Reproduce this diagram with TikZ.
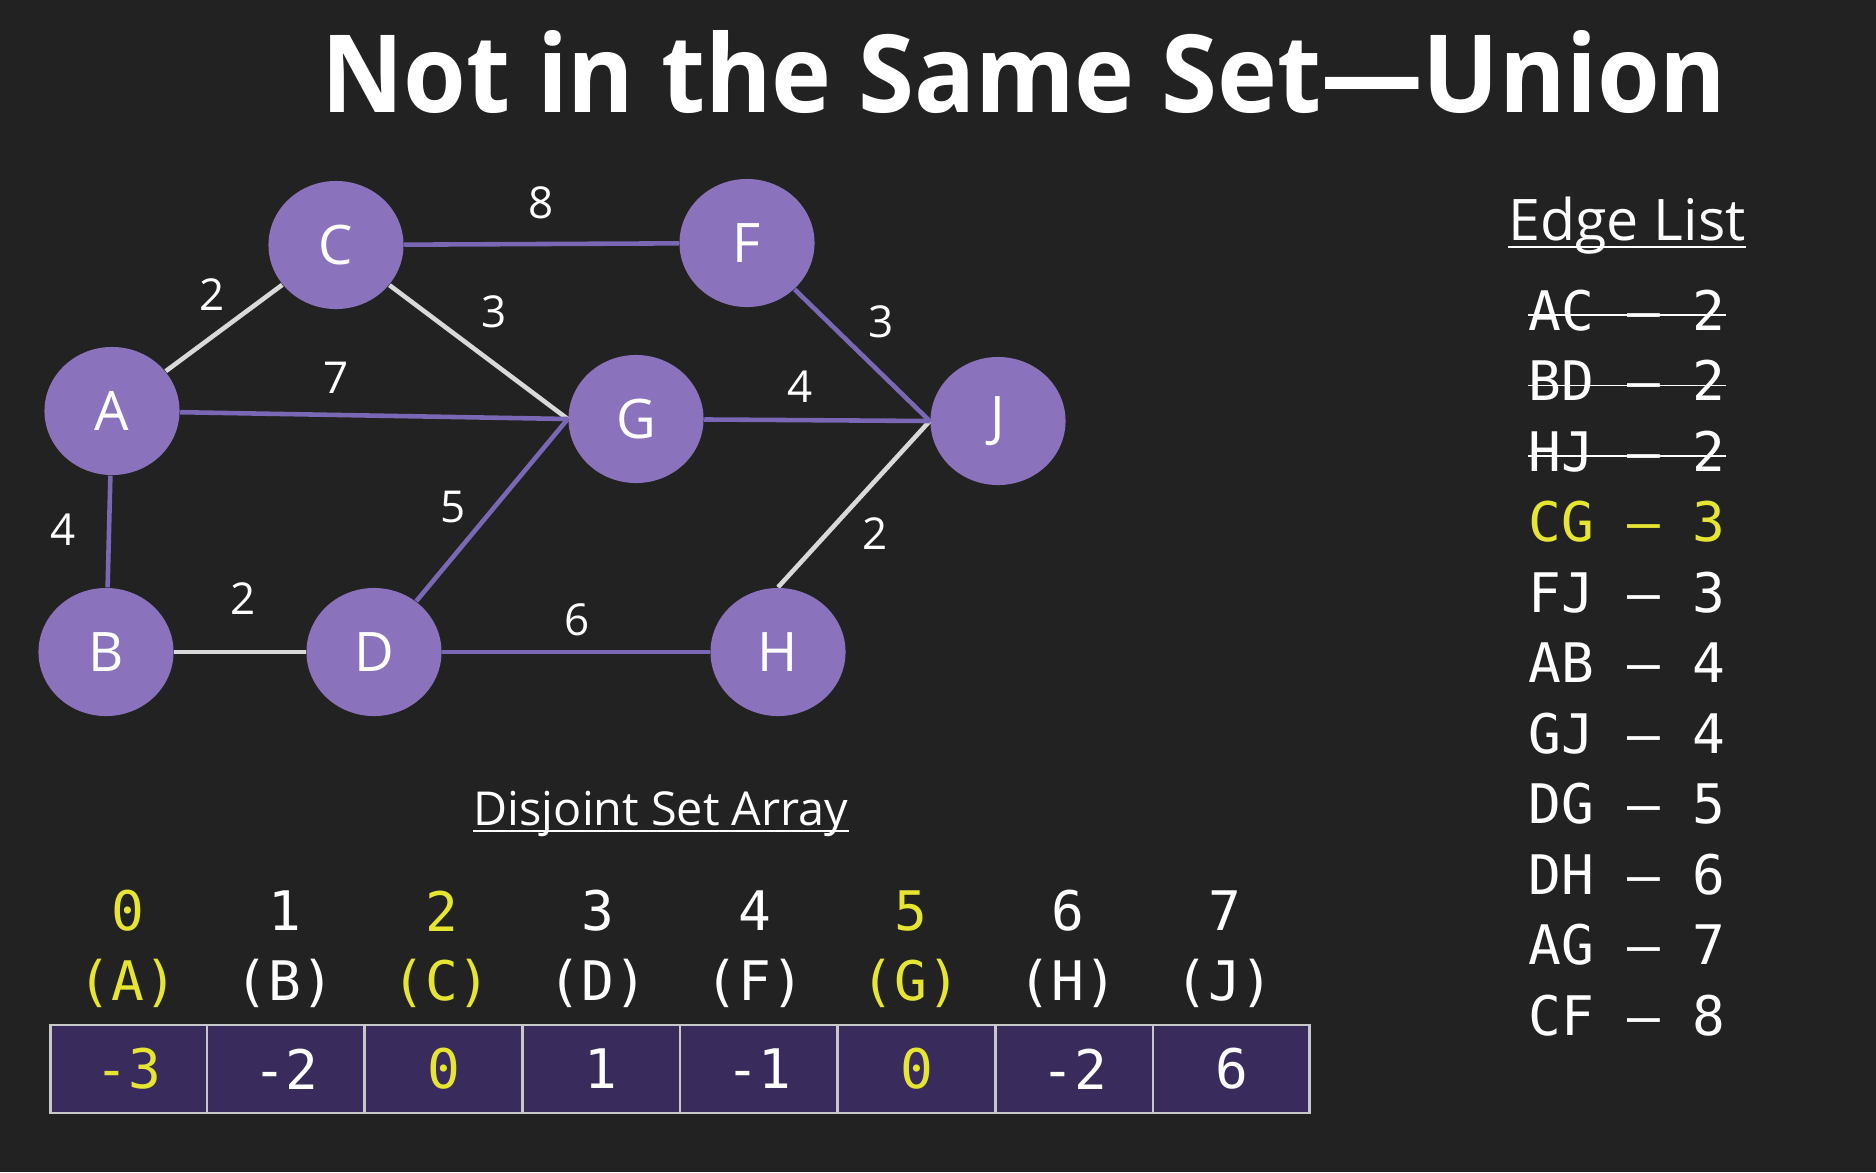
\documentclass[tikz,border=0pt]{standalone}
\usepackage{fontspec}
\setmainfont{Open Sans}
\newfontfamily\titlefont[FakeStretch=0.94]{Open Sans}
\newfontfamily\codefont{DejaVu Sans Mono}
\usetikzlibrary{shapes.geometric, shapes.multipart, positioning, backgrounds}

\definecolor{slidebg}{HTML}{222222}
\definecolor{vertexfill}{HTML}{8A72BD}
\definecolor{edgepurple}{HTML}{7A68B6}
\definecolor{edgewhite}{HTML}{D9D9D9}
\definecolor{cellfill}{HTML}{392B5C}
\definecolor{cellline}{HTML}{C8C8C8}
\definecolor{hilite}{HTML}{E6E632}

\begin{document}
\begin{tikzpicture}[
    x=0.01cm, y=-0.01cm,
    vertex/.style={
        ellipse,
        fill=vertexfill,
        minimum width=1.35cm,
        minimum height=1.28cm,
        inner sep=0pt,
        text=white,
        font=\fontsize{15.5}{18}\selectfont
    },
    purple edge/.style={draw=edgepurple, line width=1.3pt},
    white edge/.style={draw=edgewhite, line width=1.3pt},
    weight/.style={
        text=white,
        inner sep=0pt,
        font=\fontsize{12.5}{15}\selectfont
    },
    heading/.style={
        text=white,
        inner sep=0pt,
        font=\fontsize{16.3}{20}\selectfont
    },
    underline/.style={draw=white, line width=0.7pt},
    edge item/.style={
        text=white,
        inner sep=0pt,
        font=\codefont\fontsize{15.5}{18}\selectfont
    },
    strike/.style={draw=white, line width=0.5pt},
    array row/.style={
        rectangle split,
        rectangle split parts=8,
        rectangle split horizontal=true,
        inner xsep=0pt,
        text width=1.551cm,
        align=center,
        text=white,
        font=\codefont\fontsize{15.5}{18}\selectfont
    }
]
    \useasboundingbox (0,0) rectangle (1876,1172);

    % Title
    \node[text=white, inner sep=0pt, font=\titlefont\bfseries\fontsize{30.7}{36}\selectfont, anchor=base] (title) at (1024,112) {Not in the Same Set—Union};

    % --- A. GRAPH ---
    \node[vertex] (A) at (112,411) {A};
    \node[vertex] (B) at (106,652) {B};
    \node[vertex] (C) at (336,245) {C};
    \node[vertex] (D) at (374,652) {D};
    \node[vertex] (F) at (747,243) {F};
    \node[vertex] (G) at (636,419) {G};
    \node[vertex] (H) at (778,652) {H};
    \node[vertex] (J) at (998,421) {J};

    % --- B. EDGE LIST (Right) ---
    \node[heading, anchor=base] (edgelist) at (1627,240) {Edge List};
    \draw[underline] ([yshift=-0.07cm]edgelist.base west) -- ([yshift=-0.07cm]edgelist.base east);

    \node[edge item, anchor=base] (ac) at (1627,330) {AC – 2};
    \node[edge item, below=0.705cm of ac.base, anchor=base] (bd) {BD – 2};
    \node[edge item, below=0.705cm of bd.base, anchor=base] (hj) {HJ – 2};
    \node[edge item, below=0.705cm of hj.base, anchor=base, text=hilite] (cg) {CG – 3};
    \node[edge item, below=0.705cm of cg.base, anchor=base] (fj) {FJ – 3};
    \node[edge item, below=0.705cm of fj.base, anchor=base] (ab) {AB – 4};
    \node[edge item, below=0.705cm of ab.base, anchor=base] (gj) {GJ – 4};
    \node[edge item, below=0.705cm of gj.base, anchor=base] (dg) {DG – 5};
    \node[edge item, below=0.705cm of dg.base, anchor=base] (dh) {DH – 6};
    \node[edge item, below=0.705cm of dh.base, anchor=base] (ag) {AG – 7};
    \node[edge item, below=0.705cm of ag.base, anchor=base] (cf) {CF – 8};

    % edges already taken
    \draw[strike] ([yshift=0.15cm]ac.base west) -- ([yshift=0.15cm]ac.base east);
    \draw[strike] ([yshift=0.15cm]bd.base west) -- ([yshift=0.15cm]bd.base east);
    \draw[strike] ([yshift=0.15cm]hj.base west) -- ([yshift=0.15cm]hj.base east);

    % --- C. DISJOINT SET ARRAY (Bottom) ---
    \node[heading, font=\fontsize{13.3}{16}\selectfont, anchor=base] (dsa) at (661,825) {Disjoint Set Array};
    \draw[underline] ([yshift=-0.06cm]dsa.base west) -- ([yshift=-0.06cm]dsa.base east);

    \node[array row, fill=cellfill, draw=cellline, line width=0.7pt, minimum height=0.88cm] (setarray) at (680,1069) {
        \nodepart{one} \textcolor{hilite}{-3}
        \nodepart{two} -2
        \nodepart{three} \textcolor{hilite}{0}
        \nodepart{four} 1
        \nodepart{five} -1
        \nodepart{six} \textcolor{hilite}{0}
        \nodepart{seven} -2
        \nodepart{eight} 6
    };
    \node[array row, above=0.88cm of setarray.base, anchor=base] (letters) {
        \nodepart{one} \textcolor{hilite}{(A)}
        \nodepart{two} (B)
        \nodepart{three} \textcolor{hilite}{(C)}
        \nodepart{four} (D)
        \nodepart{five} (F)
        \nodepart{six} \textcolor{hilite}{(G)}
        \nodepart{seven} (H)
        \nodepart{eight} (J)
    };
    \node[array row, above=0.70cm of letters.base, anchor=base] (indices) {
        \nodepart{one} \textcolor{hilite}{0}
        \nodepart{two} 1
        \nodepart{three} \textcolor{hilite}{2}
        \nodepart{four} 3
        \nodepart{five} 4
        \nodepart{six} \textcolor{hilite}{5}
        \nodepart{seven} 6
        \nodepart{eight} 7
    };

    \begin{scope}[on background layer]
        \fill[slidebg] (0,0) rectangle (1876,1172);

        % spanning tree so far
        \draw[white edge] (A) -- (C) node[weight, midway, xshift=-0.12cm, yshift=0.335cm] (wac) {2};
        \draw[white edge] (C) -- (G.west) node[weight, midway, xshift=0.15cm, yshift=0.405cm] (wcg) {3};
        \draw[white edge] (B) -- (D) node[weight, midway, xshift=0.03cm, yshift=0.53cm] (wbd) {2};
        \draw[white edge] (H.north) -- (J.west) node[weight, midway, xshift=0.215cm, yshift=-0.29cm] (whj) {2};

        % remaining edges
        \draw[purple edge] (C) -- (F) node[weight, midway, yshift=0.41cm] (wcf) {8};
        \draw[purple edge] (A) -- (G.west) node[weight, midway, xshift=-0.38cm, yshift=0.38cm] (wag) {7};
        \draw[purple edge] (G) -- (J.west) node[weight, midway, xshift=-0.17cm, yshift=0.34cm] (wgj) {4};
        \draw[purple edge] (F) -- (J.west) node[weight, midway, xshift=0.185cm, yshift=0.335cm] (wfj) {3};
        \draw[purple edge] (A) -- (B) node[weight, midway, xshift=-0.46cm, yshift=0.02cm] (wab) {4};
        \draw[purple edge] (D) -- (G.west) node[weight, midway, xshift=-0.39cm, yshift=0.03cm] (wdg) {5};
        \draw[purple edge] (D) -- (H) node[weight, midway, xshift=0.01cm, yshift=0.32cm] (wdh) {6};
    \end{scope}

\end{tikzpicture}
\end{document}
